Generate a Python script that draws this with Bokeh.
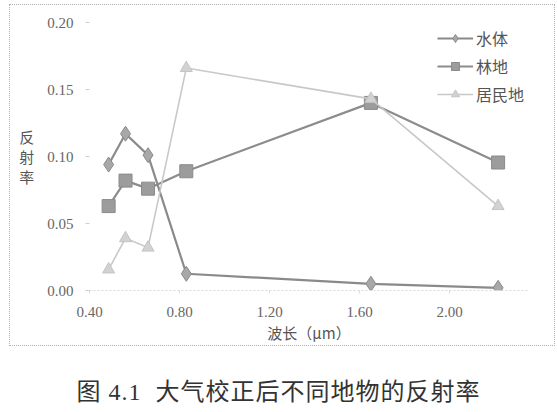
from bokeh.plotting import figure
from bokeh.models import Legend, LegendItem, Range1d, FixedTicker, Div
from bokeh.layouts import column
from bokeh.embed import file_html
from bokeh.resources import INLINE

# Landsat TM band centre wavelengths (µm)
wavelength = [0.485, 0.56, 0.66, 0.83, 1.65, 2.215]
water = [0.094, 0.117, 0.101, 0.0125, 0.005, 0.002]
forest = [0.063, 0.082, 0.076, 0.089, 0.140, 0.0955]
urban = [0.0157, 0.039, 0.032, 0.166, 0.143, 0.063]
series_names = ["水体", "林地", "居民地"]
x_ticks = [0.40, 0.80, 1.20, 1.60, 2.00]
y_ticks = [0.00, 0.05, 0.10, 0.15, 0.20]
x_title = "波长（μm）"
y_title = "反\n射\n率"
caption = "图 4.1&nbsp;&nbsp;大气校正后不同地物的反射率"

CJK = "Noto Sans CJK SC"
SERIF = "Liberation Serif"

FL, FT, FW, FH = 79, 17, 439, 268  # frame left/top/width/height inside figure
PW, PH = 544, 340

p = figure(width=PW, height=PH, output_backend="svg", toolbar_location=None,
           x_range=Range1d(0.40, 2.35), y_range=Range1d(0.0, 0.20),
           min_border_left=FL, min_border_right=PW - FL - FW, min_border_top=FT,
           min_border_bottom=PH - FT - FH, margin=(5, 0, 0, 10),
           styles={"outline": "1.5px dotted #b0b0b0"})
p.outline_line_color = None
p.xgrid.visible = False
p.ygrid.visible = False
p.background_fill_color = "white"
p.border_fill_color = "white"

# axes
p.xaxis.ticker = FixedTicker(ticks=x_ticks)
p.yaxis.ticker = FixedTicker(ticks=y_ticks)
for ax in (p.xaxis, p.yaxis):
    ax.major_label_text_font = SERIF
    ax.major_label_text_font_size = "15px"
    ax.major_label_text_color = "#666666"
    ax.minor_tick_line_color = None
    ax.axis_label_text_font = CJK
    ax.axis_label_text_font_style = "normal"
    ax.axis_label_text_color = "#555555"
p.xaxis.major_label_overrides = {t: f"{t:.2f}" for t in x_ticks}
p.yaxis.major_label_overrides = {t: f"{t:.2f}" for t in y_ticks}
p.xaxis.axis_line_color = "#d8d8d8"
p.xaxis.axis_line_dash = "2 2"
p.xaxis.major_tick_line_color = "#dddddd"
p.xaxis.major_tick_out = 3
p.xaxis.major_tick_in = 0
p.xaxis.major_label_standoff = 13
p.yaxis.axis_line_color = None
p.yaxis.major_tick_line_color = "#cccccc"
p.yaxis.major_tick_out = 4
p.yaxis.major_tick_in = 0
p.yaxis.major_label_standoff = 12
p.xaxis.axis_label = x_title
p.xaxis.axis_label_text_font_size = "15px"
p.xaxis.axis_label_standoff = 2
p.yaxis.axis_label = y_title
p.yaxis.axis_label_orientation = "horizontal"
p.yaxis.axis_label_text_font_size = "15px"
p.yaxis.axis_label_text_line_height = 0.95
p.yaxis.axis_label_standoff = 10

# series
r1l = p.line(wavelength, water, line_color="#8a8a8a", line_width=2.2)
r1m = p.scatter(wavelength, water, marker="diamond", size=15, fill_color="#a8a8a8",
                line_color="#8a8a8a", line_width=1)
r2l = p.line(wavelength, forest, line_color="#8c8c8c", line_width=2.2)
r2m = p.scatter(wavelength, forest, marker="square", size=13, fill_color="#9c9c9c",
                line_color="#8a8a8a", line_width=1)
r3l = p.line(wavelength, urban, line_color="#c8c8c8", line_width=1.6)
r3m = p.scatter(wavelength, urban, marker="triangle", size=12, fill_color="#d2d2d2",
                line_color="#c4c4c4", line_width=1)

legend = Legend(items=[LegendItem(label=series_names[0], renderers=[r1l, r1m]),
                       LegendItem(label=series_names[1], renderers=[r2l, r2m]),
                       LegendItem(label=series_names[2], renderers=[r3l, r3m])],
                location="top_right")
legend.label_text_font = CJK
legend.label_text_font_size = "16px"
legend.label_text_color = "#555555"
legend.border_line_color = None
legend.background_fill_alpha = 0
legend.glyph_width = 36
legend.spacing = 4
legend.padding = 6
legend.margin = 4
legend.label_standoff = 3
p.add_layout(legend)

cap = Div(text=('<div style="text-align:center;font-family:\'Liberation Serif\',\'Noto Sans CJK SC\';'
                'font-size:24px;letter-spacing:1px;line-height:30px;color:#333333;'
                'padding-top:32px;width:557px;">' + caption + '</div>'),
          width=557, height=67, margin=(0, 0, 0, 0))

layout = column(p, cap, spacing=0)
open("out.html", "w").write(file_html(layout, INLINE))
